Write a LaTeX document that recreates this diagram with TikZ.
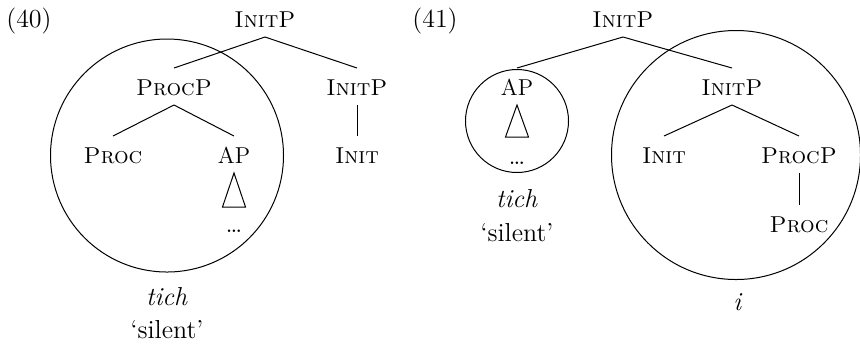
\documentclass[tikz,border=0pt]{standalone}
\begin{document}
\begin{tikzpicture}[x=0.5pt,y=-0.5pt,line width=0.5pt,
  every node/.style={font=\fontsize{11.5}{14}\selectfont},
  cat/.style={anchor=base,inner xsep=1pt,inner ysep=4.75pt,text height=8.5pt,text depth=0pt},
  txt/.style={anchor=base,inner sep=0pt,font=\fontsize{13}{15}\selectfont}]
\useasboundingbox (0,0) rectangle (860,345);
% ---------- (40)
\node[txt] (n40) at (29,27) {(40)};
\node[cat] (a0) at (265,27) {\textsc{InitP}};
\node[cat] (a1) at (174,95) {\textsc{ProcP}};
\node[cat] (a2) at (357,95) {\textsc{InitP}};
\node[cat] (a3) at (113,163) {\textsc{Proc}};
\node[cat] (a4) at (234,163) {AP};
\node[cat] (a5) at (357,163) {\textsc{Init}};
\node[txt] (a6) at (234,232) {\dots};
\node[txt] (a7) at (167,305) {\textit{tich}};
\node[txt] (a8) at (167,338) {`silent'};
\draw (a0.south) -- (a1.north);
\draw (a0.south) -- (a2.north);
\draw (a1.south) -- (a3.north);
\draw (a1.south) -- (a4.north);
\draw (a2.south) -- (a5.north);
\draw (a4.south) -- ++(-11.5,34) -- ++(23,0) -- cycle;
\draw (167,155.5) circle[radius=116.5];
% ---------- (41)
\node[txt] (n41) at (435,27) {(41)};
\node[cat] (b0) at (623,27) {\textsc{InitP}};
\node[cat] (b1) at (517,95) {AP};
\node[cat] (b2) at (732,95) {\textsc{InitP}};
\node[cat] (b3) at (664,163) {\textsc{Init}};
\node[cat] (b4) at (799,163) {\textsc{ProcP}};
\node[cat] (b5) at (799,232) {\textsc{Proc}};
\node[txt] (b6) at (517,164) {\dots};
\node[txt] (b7) at (517,207) {\textit{tich}};
\node[txt] (b8) at (517,241) {`silent'};
\node[txt] (b9) at (738,310) {\textit{i}};
\draw (b0.south) -- (b1.north);
\draw (b0.south) -- (b2.north);
\draw (b2.south) -- (b3.north);
\draw (b2.south) -- (b4.north);
\draw (b4.south) -- (b5.north);
\draw (b1.south) -- ++(-11.5,32) -- ++(23,0) -- cycle;
\draw (517,121) circle[radius=51.5];
\draw (736,155) circle[radius=124.5];
\end{tikzpicture}
\end{document}
